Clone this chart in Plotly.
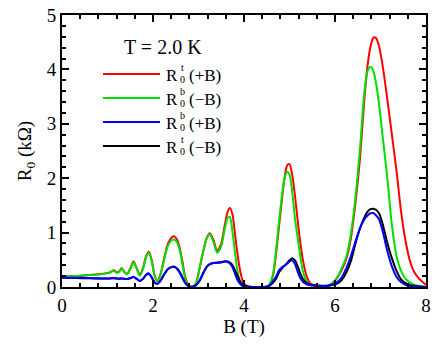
import plotly.graph_objects as go

# Magnetic field grid (T)
B = [0.00, 0.30, 0.60, 0.90, 1.02, 1.08, 1.14, 1.20, 1.26, 1.31, 1.37, 1.43, 1.50, 1.57,
     1.64, 1.71, 1.78, 1.85, 1.91, 1.97, 2.04, 2.10, 2.17, 2.25, 2.33, 2.41, 2.47, 2.53,
     2.59, 2.65, 2.71, 2.78, 2.86, 2.94, 3.03, 3.11, 3.18, 3.25, 3.33, 3.41, 3.50, 3.58,
     3.64, 3.69, 3.75, 3.80, 3.85, 3.90, 3.95, 4.00, 4.08, 4.20, 4.40, 4.50, 4.56, 4.64,
     4.71, 4.77, 4.83, 4.89, 4.95, 5.00, 5.06, 5.12, 5.18, 5.24, 5.30, 5.38, 5.46, 5.55,
     5.70, 5.85, 5.95, 6.05, 6.15, 6.25, 6.35, 6.45, 6.55, 6.65, 6.72, 6.78, 6.84, 6.90,
     6.97, 7.05, 7.15, 7.25, 7.35, 7.45, 7.55, 7.65, 7.75, 7.85, 8.00]

# R0^t(+B) (kOhm)
R_t_plus = [0.19, 0.20, 0.22, 0.245, 0.26, 0.28, 0.31, 0.27, 0.29, 0.35, 0.28, 0.24, 0.34, 0.47,
            0.35, 0.22, 0.35, 0.57, 0.65, 0.50, 0.20, 0.11, 0.25, 0.55, 0.80, 0.91, 0.93, 0.87,
            0.71, 0.45, 0.18, 0.04, 0.00, 0.06, 0.37, 0.68, 0.90, 0.99, 0.86, 0.66, 0.80, 1.15,
            1.38, 1.45, 1.32, 0.99, 0.65, 0.37, 0.17, 0.06, 0.015, 0.00, 0.00, 0.01, 0.04, 0.22,
            0.65, 1.12, 1.58, 2.00, 2.24, 2.26, 2.06, 1.68, 1.22, 0.80, 0.47, 0.19, 0.065, 0.035,
            0.02, 0.025, 0.07, 0.17, 0.32, 0.52, 0.90, 1.55, 2.37, 3.50, 4.10, 4.42, 4.58, 4.58,
            4.42, 4.05, 3.45, 2.80, 2.15, 1.40, 0.85, 0.47, 0.26, 0.15, 0.04]

# R0^b(-B)
R_b_minus = [0.19, 0.20, 0.22, 0.24, 0.255, 0.28, 0.30, 0.26, 0.28, 0.34, 0.27, 0.235, 0.33, 0.45,
             0.34, 0.21, 0.33, 0.55, 0.63, 0.48, 0.19, 0.11, 0.24, 0.52, 0.76, 0.86, 0.87, 0.82,
             0.66, 0.40, 0.15, 0.03, 0.00, 0.06, 0.37, 0.68, 0.89, 0.97, 0.82, 0.63, 0.75, 1.08,
             1.27, 1.29, 0.99, 0.65, 0.33, 0.12, 0.04, 0.01, 0.00, 0.00, 0.00, 0.01, 0.05, 0.25,
             0.72, 1.20, 1.65, 2.00, 2.12, 2.07, 1.75, 1.26, 0.90, 0.55, 0.27, 0.10, 0.04, 0.025,
             0.02, 0.025, 0.08, 0.18, 0.35, 0.56, 0.98, 1.65, 2.55, 3.62, 3.98, 4.05, 3.98, 3.75,
             3.35, 2.75, 2.00, 1.14, 0.58, 0.30, 0.15, 0.08, 0.04, 0.02, 0.01]

# R0^b(+B)
R_b_plus = [0.17, 0.17, 0.165, 0.155, 0.155, 0.16, 0.165, 0.16, 0.155, 0.16, 0.15, 0.145, 0.165, 0.19,
            0.15, 0.11, 0.15, 0.23, 0.25, 0.18, 0.08, 0.06, 0.12, 0.24, 0.33, 0.365, 0.37, 0.33,
            0.26, 0.16, 0.07, 0.015, 0.00, 0.03, 0.13, 0.27, 0.37, 0.42, 0.44, 0.44, 0.45, 0.47,
            0.46, 0.43, 0.36, 0.25, 0.14, 0.07, 0.03, 0.01, 0.00, 0.00, 0.00, 0.005, 0.03, 0.11,
            0.20, 0.31, 0.36, 0.39, 0.43, 0.47, 0.49, 0.42, 0.28, 0.16, 0.09, 0.05, 0.03, 0.025,
            0.02, 0.025, 0.05, 0.09, 0.18, 0.35, 0.57, 0.84, 1.08, 1.25, 1.32, 1.355, 1.36, 1.32,
            1.24, 1.02, 0.66, 0.38, 0.19, 0.09, 0.04, 0.02, 0.01, 0.005, 0.00]

# R0^t(-B)
R_t_minus = [0.17, 0.165, 0.16, 0.155, 0.155, 0.16, 0.16, 0.155, 0.15, 0.155, 0.15, 0.145, 0.16, 0.185,
             0.15, 0.11, 0.15, 0.22, 0.245, 0.18, 0.08, 0.06, 0.12, 0.24, 0.33, 0.37, 0.375, 0.34,
             0.27, 0.17, 0.075, 0.02, 0.005, 0.03, 0.12, 0.26, 0.37, 0.42, 0.44, 0.45, 0.46, 0.475,
             0.47, 0.45, 0.40, 0.31, 0.22, 0.13, 0.06, 0.03, 0.01, 0.00, 0.00, 0.005, 0.02, 0.08,
             0.16, 0.27, 0.34, 0.39, 0.44, 0.49, 0.53, 0.49, 0.38, 0.24, 0.14, 0.07, 0.04, 0.03,
             0.025, 0.025, 0.035, 0.06, 0.13, 0.27, 0.48, 0.80, 1.08, 1.29, 1.39, 1.43, 1.44, 1.42,
             1.35, 1.15, 0.81, 0.53, 0.30, 0.14, 0.07, 0.035, 0.02, 0.01, 0.00]

x_ticks = [0, 2, 4, 6, 8]
y_ticks = [0, 1, 2, 3, 4, 5]
title_text = "T = 2.0 K"
legend_sup = ["t", "b", "b", "t"]
legend_sign = ["(+B)", "(\u2212B)", "(+B)", "(\u2212B)"]
colors = ["#FF0000", "#00E000", "#0000FF", "#000000"]

FONT = "Liberation Serif"

fig = go.Figure()
series = [R_t_plus, R_b_minus, R_b_plus, R_t_minus]
draw_order = [0, 1, 3, 2]
for i in draw_order:
    fig.add_trace(go.Scatter(
        x=B, y=series[i], mode="lines",
        line=dict(color=colors[i], width=2, shape="spline", smoothing=0.7),
        name="R" + legend_sup[i] + "0" + legend_sign[i], showlegend=False))

# plot area geometry in px for legend placement
L, R_, T_, Bm = 62, 10, 15, 59
W, H = 436, 346
pw, ph = W - L - R_, H - T_ - Bm

def px(xp):
    return (xp - L) / pw

def py(yp):
    return (H - Bm - yp) / ph

shapes = []
annotations = []
annotations.append(dict(x=px(163), y=py(47), xref="paper", yref="paper",
                        text=title_text, showarrow=False, xanchor="center", yanchor="middle",
                        font=dict(family=FONT, size=20, color="black")))
entry_y = [74, 98, 122, 146]
for k in range(4):
    yc = entry_y[k]
    shapes.append(dict(type="line", xref="paper", yref="paper",
                       x0=px(103), x1=px(160), y0=py(yc), y1=py(yc),
                       line=dict(color=colors[k], width=2)))
    annotations.append(dict(x=px(164), y=py(yc + 1), xref="paper", yref="paper", text="R",
                            showarrow=False, xanchor="left", yanchor="middle",
                            font=dict(family=FONT, size=17, color="black")))
    annotations.append(dict(x=px(182), y=py(yc - 6.5), xref="paper", yref="paper",
                            text=legend_sup[k], showarrow=False,
                            xanchor="center", yanchor="middle", borderpad=0,
                            font=dict(family=FONT, size=10, color="black")))
    annotations.append(dict(x=px(182), y=py(yc + 5.5), xref="paper", yref="paper",
                            text="0", showarrow=False,
                            xanchor="center", yanchor="middle", borderpad=0,
                            font=dict(family=FONT, size=10, color="black")))
    annotations.append(dict(x=px(187), y=py(yc + 1), xref="paper", yref="paper",
                            text=legend_sign[k], showarrow=False, xanchor="left", yanchor="middle",
                            font=dict(family=FONT, size=17, color="black")))

axis_common = dict(showgrid=False, zeroline=False, showline=True, linecolor="black",
                   linewidth=2, mirror="allticks", ticks="inside", ticklen=7, tickwidth=2,
                   tickcolor="black", automargin=False,
                   tickfont=dict(family=FONT, size=19, color="black"))

fig.update_layout(
    width=W, height=H,
    margin=dict(l=L, r=R_, t=T_, b=Bm, pad=0, autoexpand=False),
    paper_bgcolor="white", plot_bgcolor="white",
    font=dict(family=FONT, size=19, color="black"),
    xaxis=dict(range=[0, 8], tickvals=x_ticks, ticktext=[str(v) for v in x_ticks],
               title=dict(text="B (T)", font=dict(family=FONT, size=19), standoff=4),
               minor=dict(dtick=0.4, tick0=0, ticks="inside", ticklen=4, tickwidth=1.5,
                          tickcolor="black"),
               **axis_common),
    yaxis=dict(range=[0, 5], tickvals=y_ticks, ticktext=[str(v) for v in y_ticks],
               title=dict(text="R<sub>0</sub> (k\u03a9)", font=dict(family=FONT, size=19), standoff=10),
               minor=dict(dtick=0.2, tick0=0, ticks="inside", ticklen=4, tickwidth=1.5,
                          tickcolor="black"),
               **axis_common),
    shapes=shapes,
    annotations=annotations,
    showlegend=False,
)

fig.write_html("out.html", config={"displayModeBar": False},
               post_script="document.body.style.margin='0';")
